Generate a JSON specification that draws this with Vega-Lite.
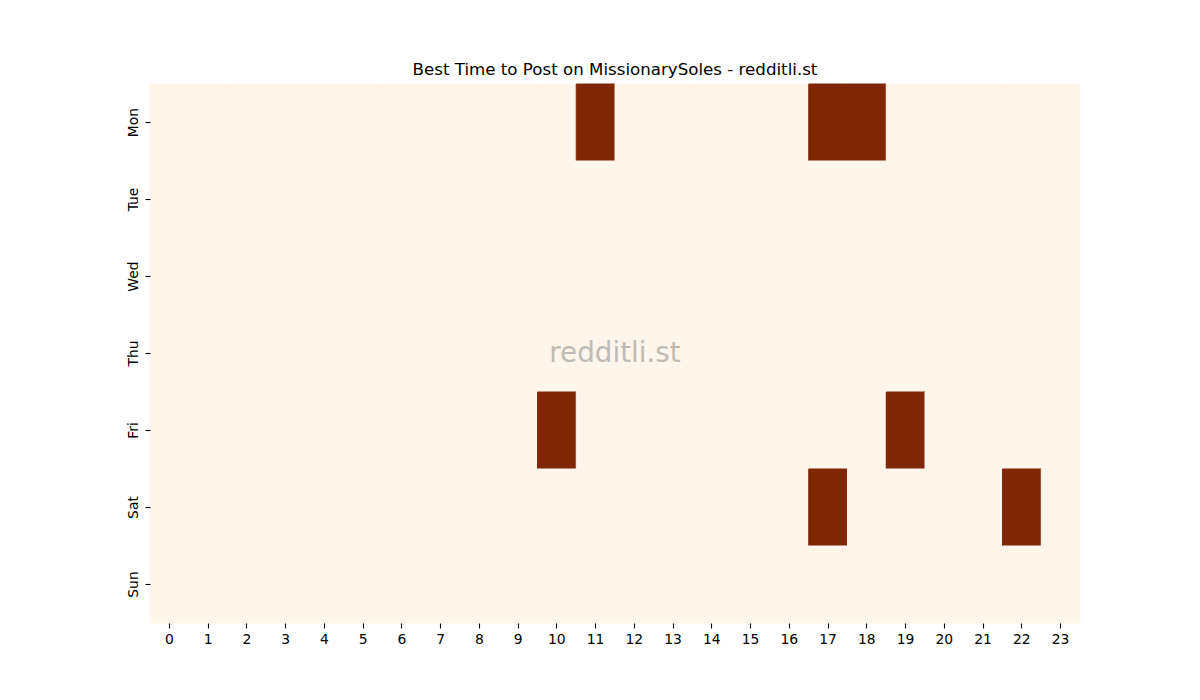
{
  "$schema": "https://vega.github.io/schema/vega-lite/v6.json",
  "width": 930,
  "height": 539,
  "autosize": "none",
  "padding": {"left": 150, "top": 84, "right": 120, "bottom": 77},
  "background": "white",
  "config": {
    "font": "DejaVu Sans",
    "view": {"stroke": null, "fill": "#fff5eb"},
    "axis": {"labelFont": "DejaVu Sans", "labelFontSize": 13.9, "labelColor": "black", "tickColor": "black", "tickSize": 4.9, "tickWidth": 1.1, "labelPadding": 4.9, "domain": false, "grid": false, "title": null}
  },
  "title": {"text": "Best Time to Post on MissionarySoles - redditli.st", "fontSize": 16.67, "fontWeight": "normal", "font": "DejaVu Sans", "color": "black", "offset": 5},
  "datasets": {
    "cells": [
      {"d":"Mon","h":0,"v":0},{"d":"Mon","h":1,"v":0},{"d":"Mon","h":2,"v":0},{"d":"Mon","h":3,"v":0},{"d":"Mon","h":4,"v":0},{"d":"Mon","h":5,"v":0},{"d":"Mon","h":6,"v":0},{"d":"Mon","h":7,"v":0},{"d":"Mon","h":8,"v":0},{"d":"Mon","h":9,"v":0},{"d":"Mon","h":10,"v":0},{"d":"Mon","h":11,"v":1},{"d":"Mon","h":12,"v":0},{"d":"Mon","h":13,"v":0},{"d":"Mon","h":14,"v":0},{"d":"Mon","h":15,"v":0},{"d":"Mon","h":16,"v":0},{"d":"Mon","h":17,"v":1},{"d":"Mon","h":18,"v":1},{"d":"Mon","h":19,"v":0},{"d":"Mon","h":20,"v":0},{"d":"Mon","h":21,"v":0},{"d":"Mon","h":22,"v":0},{"d":"Mon","h":23,"v":0},
      {"d":"Tue","h":0,"v":0},{"d":"Tue","h":1,"v":0},{"d":"Tue","h":2,"v":0},{"d":"Tue","h":3,"v":0},{"d":"Tue","h":4,"v":0},{"d":"Tue","h":5,"v":0},{"d":"Tue","h":6,"v":0},{"d":"Tue","h":7,"v":0},{"d":"Tue","h":8,"v":0},{"d":"Tue","h":9,"v":0},{"d":"Tue","h":10,"v":0},{"d":"Tue","h":11,"v":0},{"d":"Tue","h":12,"v":0},{"d":"Tue","h":13,"v":0},{"d":"Tue","h":14,"v":0},{"d":"Tue","h":15,"v":0},{"d":"Tue","h":16,"v":0},{"d":"Tue","h":17,"v":0},{"d":"Tue","h":18,"v":0},{"d":"Tue","h":19,"v":0},{"d":"Tue","h":20,"v":0},{"d":"Tue","h":21,"v":0},{"d":"Tue","h":22,"v":0},{"d":"Tue","h":23,"v":0},
      {"d":"Wed","h":0,"v":0},{"d":"Wed","h":1,"v":0},{"d":"Wed","h":2,"v":0},{"d":"Wed","h":3,"v":0},{"d":"Wed","h":4,"v":0},{"d":"Wed","h":5,"v":0},{"d":"Wed","h":6,"v":0},{"d":"Wed","h":7,"v":0},{"d":"Wed","h":8,"v":0},{"d":"Wed","h":9,"v":0},{"d":"Wed","h":10,"v":0},{"d":"Wed","h":11,"v":0},{"d":"Wed","h":12,"v":0},{"d":"Wed","h":13,"v":0},{"d":"Wed","h":14,"v":0},{"d":"Wed","h":15,"v":0},{"d":"Wed","h":16,"v":0},{"d":"Wed","h":17,"v":0},{"d":"Wed","h":18,"v":0},{"d":"Wed","h":19,"v":0},{"d":"Wed","h":20,"v":0},{"d":"Wed","h":21,"v":0},{"d":"Wed","h":22,"v":0},{"d":"Wed","h":23,"v":0},
      {"d":"Thu","h":0,"v":0},{"d":"Thu","h":1,"v":0},{"d":"Thu","h":2,"v":0},{"d":"Thu","h":3,"v":0},{"d":"Thu","h":4,"v":0},{"d":"Thu","h":5,"v":0},{"d":"Thu","h":6,"v":0},{"d":"Thu","h":7,"v":0},{"d":"Thu","h":8,"v":0},{"d":"Thu","h":9,"v":0},{"d":"Thu","h":10,"v":0},{"d":"Thu","h":11,"v":0},{"d":"Thu","h":12,"v":0},{"d":"Thu","h":13,"v":0},{"d":"Thu","h":14,"v":0},{"d":"Thu","h":15,"v":0},{"d":"Thu","h":16,"v":0},{"d":"Thu","h":17,"v":0},{"d":"Thu","h":18,"v":0},{"d":"Thu","h":19,"v":0},{"d":"Thu","h":20,"v":0},{"d":"Thu","h":21,"v":0},{"d":"Thu","h":22,"v":0},{"d":"Thu","h":23,"v":0},
      {"d":"Fri","h":0,"v":0},{"d":"Fri","h":1,"v":0},{"d":"Fri","h":2,"v":0},{"d":"Fri","h":3,"v":0},{"d":"Fri","h":4,"v":0},{"d":"Fri","h":5,"v":0},{"d":"Fri","h":6,"v":0},{"d":"Fri","h":7,"v":0},{"d":"Fri","h":8,"v":0},{"d":"Fri","h":9,"v":0},{"d":"Fri","h":10,"v":1},{"d":"Fri","h":11,"v":0},{"d":"Fri","h":12,"v":0},{"d":"Fri","h":13,"v":0},{"d":"Fri","h":14,"v":0},{"d":"Fri","h":15,"v":0},{"d":"Fri","h":16,"v":0},{"d":"Fri","h":17,"v":0},{"d":"Fri","h":18,"v":0},{"d":"Fri","h":19,"v":1},{"d":"Fri","h":20,"v":0},{"d":"Fri","h":21,"v":0},{"d":"Fri","h":22,"v":0},{"d":"Fri","h":23,"v":0},
      {"d":"Sat","h":0,"v":0},{"d":"Sat","h":1,"v":0},{"d":"Sat","h":2,"v":0},{"d":"Sat","h":3,"v":0},{"d":"Sat","h":4,"v":0},{"d":"Sat","h":5,"v":0},{"d":"Sat","h":6,"v":0},{"d":"Sat","h":7,"v":0},{"d":"Sat","h":8,"v":0},{"d":"Sat","h":9,"v":0},{"d":"Sat","h":10,"v":0},{"d":"Sat","h":11,"v":0},{"d":"Sat","h":12,"v":0},{"d":"Sat","h":13,"v":0},{"d":"Sat","h":14,"v":0},{"d":"Sat","h":15,"v":0},{"d":"Sat","h":16,"v":0},{"d":"Sat","h":17,"v":1},{"d":"Sat","h":18,"v":0},{"d":"Sat","h":19,"v":0},{"d":"Sat","h":20,"v":0},{"d":"Sat","h":21,"v":0},{"d":"Sat","h":22,"v":1},{"d":"Sat","h":23,"v":0},
      {"d":"Sun","h":0,"v":0},{"d":"Sun","h":1,"v":0},{"d":"Sun","h":2,"v":0},{"d":"Sun","h":3,"v":0},{"d":"Sun","h":4,"v":0},{"d":"Sun","h":5,"v":0},{"d":"Sun","h":6,"v":0},{"d":"Sun","h":7,"v":0},{"d":"Sun","h":8,"v":0},{"d":"Sun","h":9,"v":0},{"d":"Sun","h":10,"v":0},{"d":"Sun","h":11,"v":0},{"d":"Sun","h":12,"v":0},{"d":"Sun","h":13,"v":0},{"d":"Sun","h":14,"v":0},{"d":"Sun","h":15,"v":0},{"d":"Sun","h":16,"v":0},{"d":"Sun","h":17,"v":0},{"d":"Sun","h":18,"v":0},{"d":"Sun","h":19,"v":0},{"d":"Sun","h":20,"v":0},{"d":"Sun","h":21,"v":0},{"d":"Sun","h":22,"v":0},{"d":"Sun","h":23,"v":0}
    ],
    "mark": [{"label": "redditli.st", "h": 12, "d": "Thu"}]
  },
  "layer": [
    {
      "data": {"name": "cells"},
      "mark": {"type": "rect", "strokeWidth": 1},
      "encoding": {
        "x": {"field": "h", "type": "ordinal", "sort": "ascending", "scale": {"paddingInner": 0, "paddingOuter": 0}, "axis": {"labelAngle": 0, "orient": "bottom"}},
        "y": {"field": "d", "type": "nominal", "sort": ["Mon","Tue","Wed","Thu","Fri","Sat","Sun"], "scale": {"paddingInner": 0, "paddingOuter": 0}, "axis": {"labelAngle": -90, "orient": "left"}},
        "color": {"field": "v", "type": "quantitative", "scale": {"domain": [0, 1], "range": ["#fff5eb", "#7f2704"]}, "legend": null},
        "stroke": {"field": "v", "type": "quantitative", "scale": {"domain": [0, 1], "range": ["#fff5eb", "#7f2704"]}, "legend": null}
      }
    },
    {
      "data": {"name": "mark"},
      "mark": {"type": "text", "fontSize": 27.8, "font": "DejaVu Sans", "color": "#808080", "opacity": 0.5, "align": "center", "baseline": "middle"},
      "encoding": {
        "x": {"field": "h", "type": "ordinal", "sort": "ascending", "bandPosition": 0},
        "y": {"field": "d", "type": "nominal", "sort": ["Mon","Tue","Wed","Thu","Fri","Sat","Sun"], "bandPosition": 0.5},
        "text": {"field": "label"}
      }
    }
  ]
}
